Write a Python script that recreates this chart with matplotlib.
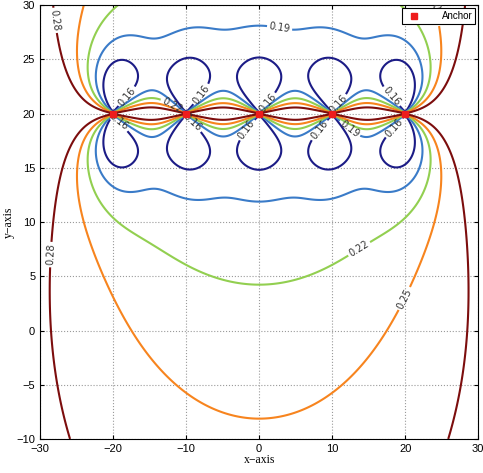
import numpy as np
import matplotlib
matplotlib.use("Agg")
import matplotlib.pyplot as plt

# Anchors (m)
anchor_x = [-20, -10, 0, 10, 20]
anchor_y = [20, 20, 20, 20, 20]

# Contour levels and colours
levels = [0.16, 0.19, 0.22, 0.25, 0.28]
level_colors = ["#1c1c86", "#3a7bc8", "#92cf50", "#f7841e", "#7c0d0d"]

# a few values, used to scale the error model
ref_x = [0, 0, 0, -28.6, -17.3]
ref_y = [3, -6.1, 10.4, 9.5, -10]
ref_v = [0.22, 0.25, 0.19, 0.28, 0.28]

# ranging model: info ~ (10/d)^3 + 1, anchor height offset, prior information
alpha = 3.0
k_far = 1.0
prior = 1.0
hz = 1.5


def posError(X, Y):
    """ sqrt(trace(CRLB)) of the 2D position """
    Jxx = np.zeros_like(X)
    Jyy = np.zeros_like(X)
    Jxy = np.zeros_like(X)
    for ax_, ay_ in zip(anchor_x, anchor_y):
        dx = X - ax_
        dy = Y - ay_
        d2 = dx**2 + dy**2 + hz**2
        w = (100.0 / d2)**(alpha / 2.0) + k_far
        Jxx += w * dx * dx / d2
        Jyy += w * dy * dy / d2
        Jxy += w * dx * dy / d2
    Jxx += prior
    Jyy += prior
    det = Jxx * Jyy - Jxy**2
    return np.sqrt((Jxx + Jyy) / det)


m = posError(np.array(ref_x, float), np.array(ref_y, float))
scale = np.exp(np.mean(np.log(ref_v) - np.log(m)))

x = np.linspace(-30, 30, 601)
y = np.linspace(-10, 30, 401)
X, Y = np.meshgrid(x, y)
Z = scale * posError(X, Y)

fig = plt.figure(figsize=(4.83, 4.73), dpi=100)
ax = fig.add_axes([0.083, 0.072, 0.907, 0.917])

cs = ax.contour(X, Y, Z, levels=levels, colors=level_colors, linewidths=1.5)
ax.clabel(cs, fmt="%.2f", fontsize=7, colors="#333333", inline=True, inline_spacing=2)

ax.plot(anchor_x, anchor_y, "s", color="#ee1c1c", markersize=5, label="Anchor",
        linestyle="none", zorder=5)

ax.set_xlim(-30, 30)
ax.set_ylim(-10, 30)
ax.set_xticks(np.arange(-30, 31, 10))
ax.set_yticks(np.arange(-10, 31, 5))
ax.grid(True, linestyle=":", color="#9a9a9a", linewidth=0.8)
ax.tick_params(direction="in", labelsize=8, length=3, top=True, right=True)
for lab in ax.get_xticklabels() + ax.get_yticklabels():
    lab.set_family("Liberation Sans")
ax.set_xlabel("x\u2212axis", family="Liberation Serif", fontsize=8.5, labelpad=0)
ax.set_ylabel("y\u2212axis", family="Liberation Serif", fontsize=8.5, labelpad=1)
leg = ax.legend(loc="upper right", prop={"family": "Liberation Sans", "size": 7},
                fancybox=False, edgecolor="black", borderaxespad=0.3,
                handletextpad=1.8, borderpad=0.3, framealpha=1)
leg.get_frame().set_linewidth(0.8)

fig.savefig("out.png", dpi=100)
